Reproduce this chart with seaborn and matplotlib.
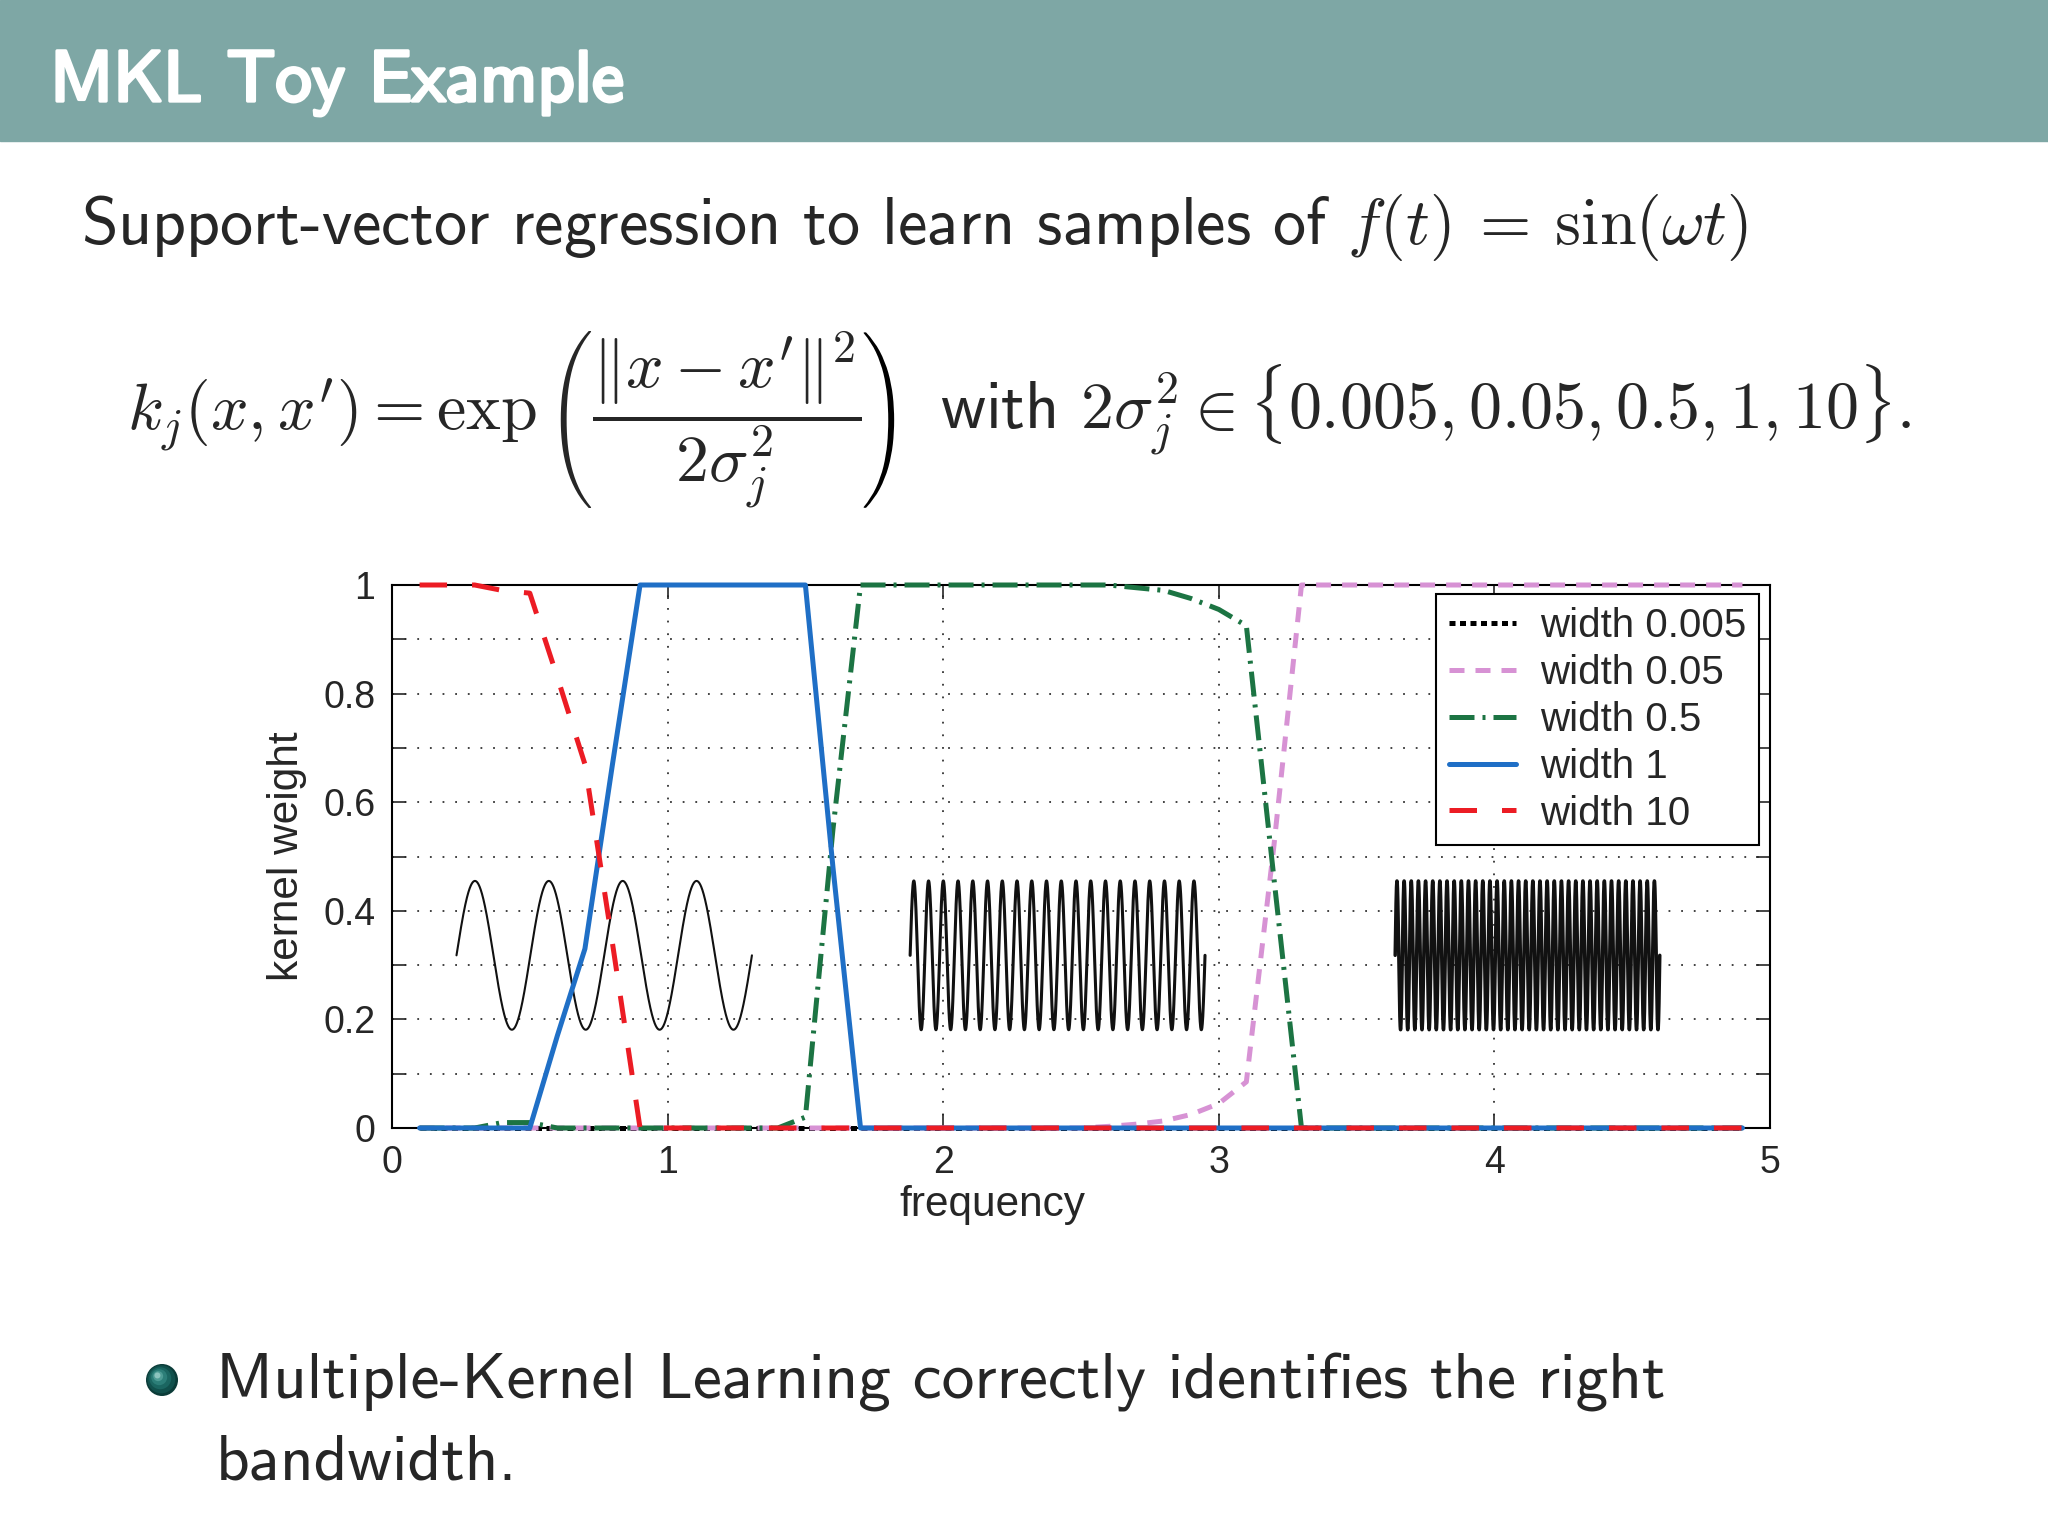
import numpy as np
import pandas as pd
import seaborn as sns
import matplotlib.pyplot as plt
import matplotlib.patheffects as pe
from matplotlib.patches import Rectangle, Circle, Polygon
from matplotlib.textpath import TextPath

# kernel weights, one value per frequency step
freq = [0.1, 0.2, 0.3, 0.4, 0.5, 0.6, 0.7, 0.8, 0.9, 1.0,
        1.1, 1.2, 1.3, 1.4, 1.5, 1.6, 1.7, 1.8, 1.9, 2.0,
        2.1, 2.2, 2.3, 2.4, 2.5, 2.6, 2.7, 2.8, 2.9, 3.0,
        3.1, 3.2, 3.3, 3.4, 3.5, 3.6, 3.7, 3.8, 3.9, 4.0,
        4.1, 4.2, 4.3, 4.4, 4.5, 4.6, 4.7, 4.8, 4.9]

w_0005 = [0, 0, 0, 0, 0, 0, 0, 0, 0, 0,
          0, 0, 0, 0, 0, 0, 0, 0, 0, 0,
          0, 0, 0, 0, 0, 0, 0, 0, 0, 0,
          0, 0, 0, 0, 0, 0, 0, 0, 0, 0,
          0, 0, 0, 0, 0, 0, 0, 0, 0]
w_005 = [0, 0, 0, 0, 0, 0, 0, 0, 0, 0,
         0, 0, 0, 0, 0, 0, 0, 0, 0, 0,
         0, 0, 0, 0, 0, 0.003, 0.007, 0.013, 0.025, 0.045,
         0.085, 0.52, 1, 1, 1, 1, 1, 1, 1, 1,
         1, 1, 1, 1, 1, 1, 1, 1, 1]
w_05 = [0, 0, 0, 0.01, 0.01, 0, 0, 0, 0, 0,
        0, 0, 0, 0, 0.02, 0.55, 1, 1, 1, 1,
        1, 1, 1, 1, 1, 1, 0.995, 0.99, 0.975, 0.955,
        0.925, 0.46, 0, 0, 0, 0, 0, 0, 0, 0,
        0, 0, 0, 0, 0, 0, 0, 0, 0]
w_1 = [0, 0, 0, 0, 0, 0.17, 0.33, 0.67, 1, 1,
       1, 1, 1, 1, 1, 0.48, 0, 0, 0, 0,
       0, 0, 0, 0, 0, 0, 0, 0, 0, 0,
       0, 0, 0, 0, 0, 0, 0, 0, 0, 0,
       0, 0, 0, 0, 0, 0, 0, 0, 0]
w_10 = [1, 1, 1, 0.99, 0.985, 0.83, 0.67, 0.34, 0, 0,
        0, 0, 0, 0, 0, 0, 0, 0, 0, 0,
        0, 0, 0, 0, 0, 0, 0, 0, 0, 0,
        0, 0, 0, 0, 0, 0, 0, 0, 0, 0,
        0, 0, 0, 0, 0, 0, 0, 0, 0]

labels = ["width 0.005", "width 0.05", "width 0.5", "width 1", "width 10"]
weights = [w_0005, w_005, w_05, w_1, w_10]

# the three example signals sin(wt) drawn inside the plot (visible cycles)
sig_cycles = [4, 20, 37]

xtick_vals = [0, 1, 2, 3, 4, 5]
xtick_labels = ["0", "1", "2", "3", "4", "5"]
ytick_vals = [0, 0.2, 0.4, 0.6, 0.8, 1.0]
ytick_labels = ["0", "0.2", "0.4", "0.6", "0.8", "1"]

# styles
colors = ["black", "#D792D4", "#1C7443", "#1F6FC6", "#EC1C24"]
styles = [(0, (1.2, 0.9)), (0, (3, 2.2)), (0, (5, 1.6, 0.6, 1.6)), "-", (0, (5.5, 5))]
sig_span = [(0.234, 1.306), (1.88, 2.95), (3.64, 4.60)]
sig_lw = [1.5, 2.2, 2.5]
sig_mid, sig_amp = 0.318, 0.137

sns.set_theme(style="white")
plt.rcParams["font.family"] = ["Liberation Sans", "DejaVu Sans"]
plt.rcParams["mathtext.fontset"] = "cm"
slide_font = ["cmss10", "DejaVu Sans"]
fs_body = 47.5

fig = plt.figure(figsize=(20.48, 15.36), dpi=100)

# slide background drawn in pixel coordinates
bg = fig.add_axes([0, 0, 1, 1])
bg.set_xlim(0, 2048)
bg.set_ylim(1536, 0)
bg.axis("off")
bg.add_patch(Rectangle((0, 0), 2048, 141, color="#7EA7A5"))
bg.text(50, 101, "MKL Toy Example", color="white", fontsize=52, family=slide_font,
        va="baseline", path_effects=[pe.withStroke(linewidth=2.4, foreground="white")])
bg.text(81, 244, r"Support-vector regression to learn samples of $f(t) \:=\: \sin(\omega t)$",
        fontsize=fs_body, family=slide_font, va="baseline")

# kernel formula; the big closing paren is the mirrored opening one
frac = r"\dfrac{\|x - x'\|^2}{2\sigma_j^2}"
base_y = 430
t_left = bg.text(127, base_y, r"$k_j(x, x') = \exp\left(" + frac + r"\right.$",
                 fontsize=fs_body, va="baseline")
bb = t_left.get_window_extent(fig.canvas.get_renderer())
polys = sorted(TextPath((0, 0), r"$\left(" + frac + r"\right.$", size=fs_body * 100 / 72).to_polygons(),
               key=lambda p: p[:, 0].min())
paren = polys[0]
x0 = bb.x1 + 2
pts = np.column_stack([x0 + paren[:, 0].max() - paren[:, 0], base_y - paren[:, 1]])
bg.add_patch(Polygon(pts, closed=True, color="black", lw=0))
bg.text(pts[:, 0].max() + 46, base_y, r"with $2\sigma_j^2 \in \{0.005, 0.05, 0.5, 1, 10\}.$",
        fontsize=fs_body, family=slide_font, va="baseline")

# shaded ball bullet
for r, c in zip([16, 14, 11, 8, 5, 3], ["#0B3B38", "#11504C", "#1B6661", "#2C7E78", "#4E9C95", "#8CC4BE"]):
    off = (16 - r) * 0.35
    bg.add_patch(Circle((162 - off, 1380 - off), r, color=c, lw=0))
bg.text(216, 1399, "Multiple-Kernel Learning correctly identifies the right",
        fontsize=47, family=slide_font, va="baseline")
bg.text(216, 1480, "bandwidth.", fontsize=47, family=slide_font, va="baseline")

# the chart
ax = fig.add_axes([392 / 2048, 1 - 1128 / 1536, 1378 / 2048, 543 / 1536])
ax.set_facecolor("white")

for (x0, x1), cyc, lw in zip(sig_span, sig_cycles, sig_lw):
    t = np.linspace(0, 1, 3000)
    ax.plot(x0 + (x1 - x0) * t, sig_mid + sig_amp * np.sin(2 * np.pi * cyc * t),
            color="#111111", lw=lw, zorder=2)

df = pd.DataFrame({"frequency": freq})
for lab, w, c, ls in zip(labels, weights, colors, styles):
    df[lab] = w
    sns.lineplot(data=df, x="frequency", y=lab, ax=ax, color=c, linestyle=ls,
                 lw=3.6, label=lab, clip_on=False, zorder=3)

ax.set_xlim(0, 5)
ax.set_ylim(0, 1)
ax.set_xticks(xtick_vals)
ax.set_xticklabels(xtick_labels)
ax.set_yticks(ytick_vals)
ax.set_yticklabels(ytick_labels)
ax.set_yticks(np.arange(0.1, 1.0, 0.2), minor=True)
ax.grid(axis="y", which="both", ls=(0, (1, 6)), lw=1.3, color="#333333")
ax.grid(axis="x", which="major", ls=(0, (1, 6)), lw=1.3, color="#333333")
ax.tick_params(which="both", direction="in", length=10, width=1.2,
               left=True, right=True, top=True, bottom=True, labelsize=27, pad=12)
for s in ax.spines.values():
    s.set_visible(True)
    s.set_color("black")
    s.set_linewidth(1.5)

ax.set_xlabel("frequency", fontsize=30.5)
ax.xaxis.set_label_coords(0.436, -0.105)
ax.set_ylabel("kernel weight", fontsize=30.5)
ax.yaxis.set_label_coords(-0.062, 0.5)

leg = ax.legend(loc="upper right", bbox_to_anchor=(0.992, 0.983), frameon=True,
                fancybox=False, edgecolor="black", framealpha=1, fontsize=29,
                handlelength=1.65, handletextpad=0.6, labelspacing=0.22,
                borderpad=0.32, borderaxespad=0)
leg.get_frame().set_linewidth(1.5)

fig.savefig("out.png", dpi=100)
